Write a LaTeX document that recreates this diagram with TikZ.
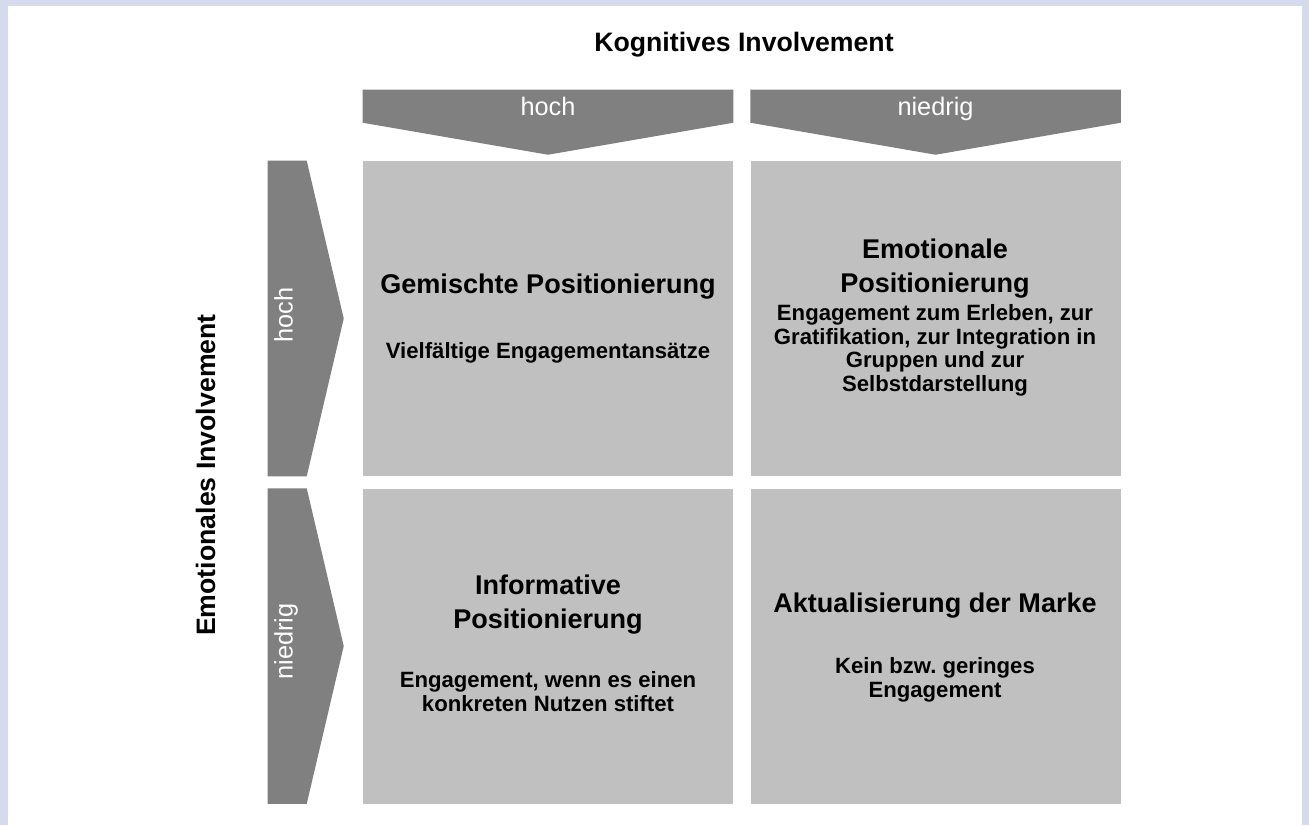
\documentclass[tikz,border=0pt]{standalone}
\usepackage{fontspec}
\setmainfont{Liberation Sans}
\usetikzlibrary{calc, positioning}
\definecolor{rahmenBlau}{RGB}{213,218,237}
\definecolor{pfeilGrau}{RGB}{128,128,128}
\definecolor{feldGrau}{RGB}{192,192,192}
\frenchspacing

\begin{document}
\begin{tikzpicture}
	[
	x=0.75pt, y=-0.75pt,
	node distance=9pt and 12.75pt,
        feld/.style={
            rectangle,
            fill=feldGrau,
            inner sep=0pt,
            minimum width=277.5pt,
            minimum height=236.25pt
        },
        titel/.style={
            anchor=base,
            align=center,
            font=\bfseries\fontsize{20.3}{25.5}\selectfont
        },
        erklaerung/.style={
            anchor=base,
            align=center,
            font=\bfseries\fontsize{16.6}{17.6}\selectfont
        },
        stufe/.style={
            anchor=base,
            text=white,
            font=\fontsize{19}{22}\selectfont
        },
        achse/.style={
            anchor=base,
            font=\bfseries\fontsize{20}{24}\selectfont
        },
        pfeil/.style={
            fill=pfeilGrau
        }
    ]
    % Rahmen
    \fill[rahmenBlau] (0,0) rectangle (1309,825);
    \fill[white] (8,6) rectangle (1302,825);
    \useasboundingbox (0,0) rectangle (1309,825);

    % Felder
    \node(gemischte) [feld] at (548,318.5) {};
    \node(emotionale) [feld, right=of gemischte] {};
    \node(informative) [feld, below=of gemischte] {};
    \node(aktualisierung) [feld, right=of informative] {};

    % Pfeile oben
    \fill[pfeil] ($(gemischte.north west)+(0,-71)$) -- ($(gemischte.north east)+(0,-71)$)
        -- ($(gemischte.north east)+(0,-38)$) -- ($(gemischte.north)+(0,-6)$)
        -- ($(gemischte.north west)+(0,-38)$) -- cycle;
    \fill[pfeil] ($(emotionale.north west)+(0,-71)$) -- ($(emotionale.north east)+(0,-71)$)
        -- ($(emotionale.north east)+(0,-38)$) -- ($(emotionale.north)+(0,-6)$)
        -- ($(emotionale.north west)+(0,-38)$) -- cycle;

    % Pfeile links
    \fill[pfeil] ($(gemischte.north west)+(-95,0)$) -- ($(gemischte.north west)+(-56,0)$)
        -- ($(gemischte.west)+(-19,0)$) -- ($(gemischte.south west)+(-56,0)$)
        -- ($(gemischte.south west)+(-95,0)$) -- cycle;
    \fill[pfeil] ($(informative.north west)+(-95,0)$) -- ($(informative.north west)+(-56,0)$)
        -- ($(informative.west)+(-19,0)$) -- ($(informative.south west)+(-56,0)$)
        -- ($(informative.south west)+(-95,0)$) -- cycle;

    % Stufen
    \node(kogHoch) [stufe] at ($(gemischte.north)+(0,-45)$) {hoch};
    \node(kogNiedrig) [stufe] at ($(emotionale.north)+(0,-45)$) {niedrig};
    \node(emoHoch) [stufe, rotate=90] at ($(gemischte.west)+(-70,-3.5)$) {hoch};
    \node(emoNiedrig) [stufe, rotate=90] at ($(informative.west)+(-70,-4.5)$) {niedrig};

    % Achsen
    \node(kognitiv) [achse] at (744,51) {Kognitives Involvement};
    \node(emotional) [achse, rotate=90] at (215,475) {Emotionales Involvement};

    % Texte (base = letzte Zeile)
    \node(gemischteTitel) [titel] at (548,293) {Gemischte Positionierung};
    \node(gemischteText) [erklaerung] at (548,358) {Vielfältige Engagementansätze};
    \node(emotionaleTitel) [titel] at (935,292) {Emotionale\\Positionierung};
    \node(emotionaleText) [erklaerung] at (935,391) {Engagement zum Erleben, zur\\Gratifikation, zur Integration in\\Gruppen und zur\\Selbstdarstellung};
    \node(informativeTitel) [titel] at (548,628) {Informative\\Positionierung};
    \node(informativeText) [erklaerung] at (548,711) {Engagement, wenn es einen\\konkreten Nutzen stiftet};
    \node(aktualisierungTitel) [titel] at (935,612) {Aktualisierung der Marke};
    \node(aktualisierungText) [erklaerung] at (935,697) {Kein bzw. geringes\\Engagement};
\end{tikzpicture}
\end{document}
